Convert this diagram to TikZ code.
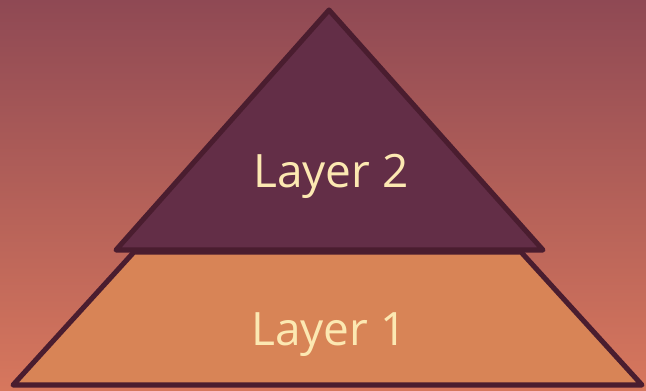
\documentclass[tikz,border=0pt]{standalone}
\usepackage{fontspec}
\setmainfont{Open Sans}
\usepackage{xcolor}
\usepackage{tikz}
\definecolor{bgtop}{HTML}{8F4954}
\definecolor{bgbot}{HTML}{D7775D}
\definecolor{edge}{HTML}{4A1D2F}
\definecolor{plum}{HTML}{632E47}
\definecolor{sand}{HTML}{D88456}
\definecolor{cream}{HTML}{FCE8B2}
\tikzset{
  layer/.style={draw=edge, line width=3.8pt, line cap=round, line join=round},
  lab/.style={text=cream, anchor=base, font=\fontsize{34.5}{40}\selectfont},
}
\begin{document}
\begin{tikzpicture}[x=0.75pt,y=-0.75pt]
  \shade[top color=bgtop, bottom color=bgbot] (0,0) rectangle (646,390);
  \useasboundingbox (0,0) rectangle (646,390);
  % bottom layer
  \coordinate (BL) at (13,385);
  \coordinate (BR) at (642,385);
  \coordinate (TR) at (521,252);
  \coordinate (TL) at (134,252);
  \draw[layer, fill=sand] (BL)--(BR)--(TR)--(TL)--cycle;
  % top layer
  \coordinate (A) at (329,10);
  \coordinate (L) at (116,250);
  \coordinate (R) at (543,250);
  \draw[layer, fill=plum] (A)--(R)--(L)--cycle;
  \node[lab] (one) at (329,345) {Layer 1};
  \node[lab] (two) at (331,187) {Layer 2};
\end{tikzpicture}
\end{document}
